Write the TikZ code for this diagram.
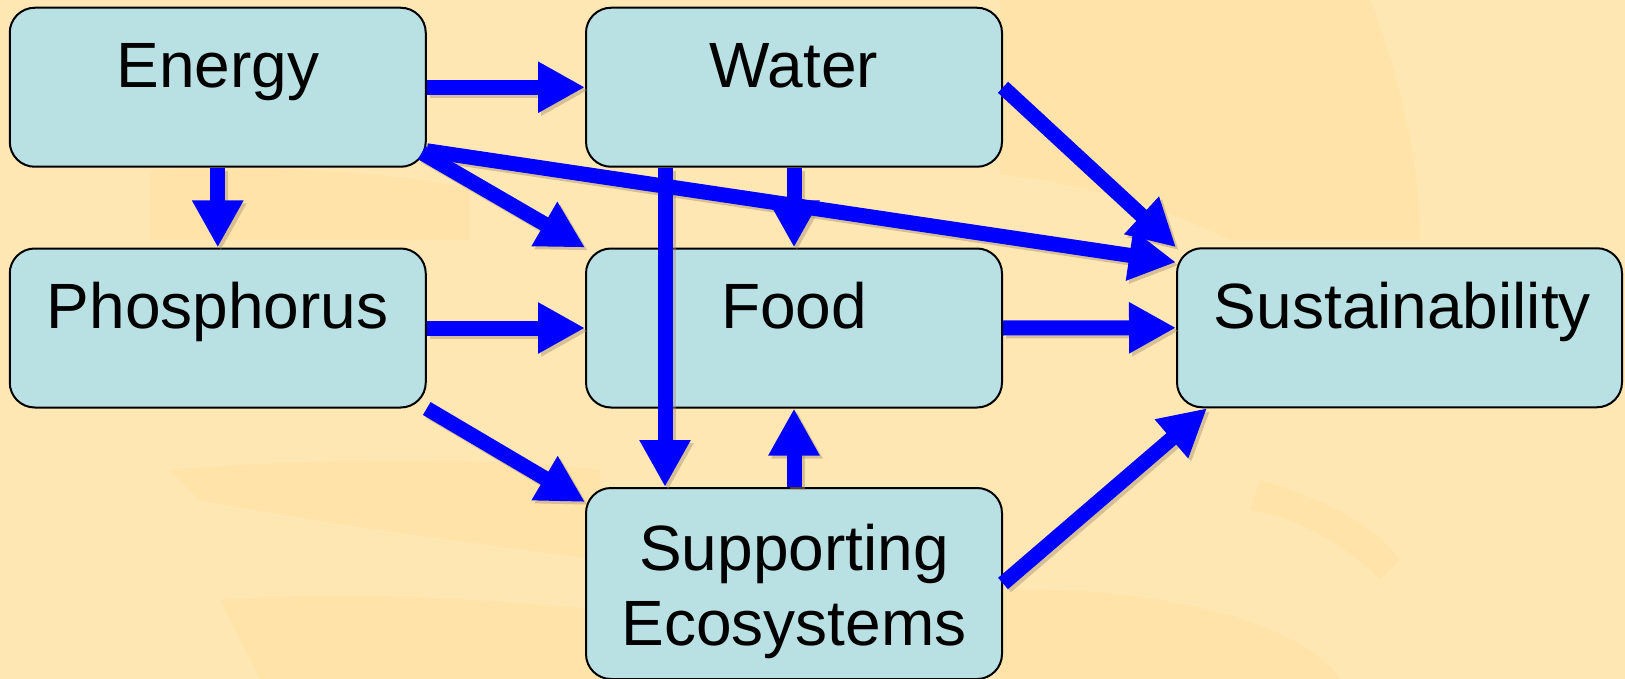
\documentclass[tikz,border=0pt]{standalone}
\usepackage{fontspec}
\setmainfont{Liberation Sans}
\usetikzlibrary{arrows.meta}
\definecolor{bg}{HTML}{FFE7B4}
\definecolor{bgdark}{HTML}{FFDF9C}
\definecolor{boxfill}{HTML}{B9E0E3}
\definecolor{arrblue}{HTML}{0000FF}
\definecolor{shadowc}{HTML}{A89070}
\begin{document}
\begin{tikzpicture}[x=1pt,y=-1pt,
  box/.style={draw=black, line width=2pt, fill=boxfill, rounded corners=25pt,
    minimum width=416pt, minimum height=159pt, inner sep=0pt},
  lbl/.style={font=\fontsize{64}{75}\selectfont, anchor=base, inner sep=0pt},
  arr/.style={draw=arrblue, line width=15pt, -{Triangle[width=48pt,length=47pt]}},
  arrsh/.style={draw=shadowc, opacity=0.45, line width=15pt,
    -{Triangle[width=48pt,length=47pt]}, transform canvas={shift={(3pt,-3pt)}}},
  patch/.style={fill=bgdark, draw=none, opacity=0.45}]
% background
\fill[bg] (0,0) rectangle (1625,679);
\useasboundingbox (0,0) rectangle (1625,679);
\fill[patch] (1000,0) -- (1370,0) .. controls (1400,80) and (1420,160) .. (1420,240)
  -- (1230,240) .. controls (1150,200) and (1060,180) .. (1000,175) -- cycle;
\fill[patch] (170,470) .. controls (350,455) and (520,460) .. (600,470) -- (600,560)
  .. controls (450,540) and (300,520) .. (200,500) -- cycle;
\fill[patch] (220,600) .. controls (350,590) and (500,600) .. (600,610) -- (600,679)
  -- (260,679) -- cycle;
\fill[patch] (1000,590) .. controls (1150,585) and (1300,620) .. (1340,679) -- (1000,679) -- cycle;
\fill[patch] (1260,480) .. controls (1330,500) and (1380,530) .. (1400,560)
  -- (1380,580) .. controls (1340,540) and (1300,520) .. (1250,510) -- cycle;
\fill[patch] (150,170) .. controls (300,165) and (420,175) .. (470,190) -- (470,240)
  -- (150,240) -- cycle;

% boxes
\node[box] (energy) at (217.75,87.25) {};
\node[box] (water)  at (794,87.25) {};
\node[box] (phos)   at (217.75,328) {};
\node[box] (food)   at (794,328) {};
\node[box, minimum width=445pt] (sust) at (1399.5,327.75) {};
\node[box, minimum height=191pt] (supp) at (794,583.5) {};

% labels
\node[lbl] (energyT) at ([yshift=-81pt]energy.north) {Energy};
\node[lbl] (waterT)  at ([yshift=-81pt]water.north) {Water};
\node[lbl] (phosT)   at ([yshift=-81pt]phos.north) {Phosphorus};
\node[lbl] (foodT)   at ([yshift=-81pt]food.north) {Food};
\node[lbl] (sustT)   at ([xshift=3pt,yshift=-81pt]sust.north) {Sustainability};
\node[lbl] (suppT1)  at ([yshift=-83pt]supp.north) {Supporting};
\node[lbl] (suppT2)  at ([yshift=-158pt]supp.north) {Ecosystems};

% connector end points
\coordinate (eS1) at ([xshift=-5pt,yshift=15pt]energy.south east);
\coordinate (eS2) at ([yshift=17pt]energy.south east);
\coordinate (sT)  at ([yshift=-15pt]sust.north west);
\coordinate (wS)  at ([xshift=-129pt]water.south);
\coordinate (suN) at ([xshift=-129pt]supp.north);
\coordinate (suNW) at ([yshift=-15pt]supp.north west);
\coordinate (sSW) at ([xshift=31pt]sust.south west);

% shadows
\foreach \a/\b in {energy.east/water.west, energy.south/phos.north, eS1/food.north west,
  eS2/sT, water.east/sust.north west, water.south/food.north, wS/suN,
  phos.east/food.west, phos.south east/suNW, food.east/sust.west,
  supp.north/food.south, supp.east/sSW}
  {\draw[arrsh] (\a) -- (\b);}

% arrows
\draw[arr] (energy.east) -- (water.west);
\draw[arr] (energy.south) -- (phos.north);
\draw[arr] (eS1) -- (food.north west);
\draw[arr] (eS2) -- (sT);
\draw[arr] (water.east) -- (sust.north west);
\draw[arr] (water.south) -- (food.north);
\draw[arr] (wS) -- (suN);
\draw[arr] (phos.east) -- (food.west);
\draw[arr] (phos.south east) -- (suNW);
\draw[arr] (food.east) -- (sust.west);
\draw[arr] (supp.north) -- (food.south);
\draw[arr] (supp.east) -- (sSW);
\end{tikzpicture}
\end{document}
